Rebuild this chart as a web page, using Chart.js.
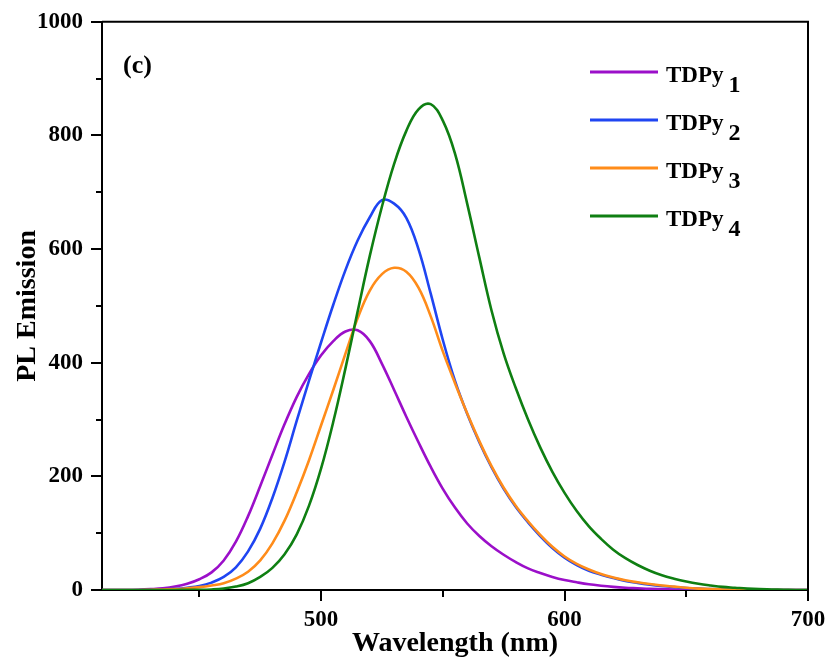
<!DOCTYPE html>
<html>
<head>
<meta charset="utf-8">
<script src="https://cdn.jsdelivr.net/npm/chart.js@4.4.0/dist/chart.umd.min.js"></script>
<style>
  html, body { margin: 0; padding: 0; background: #fff; }
  #wrap { width: 835px; height: 661px; }
</style>
</head>
<body>
<div id="wrap"><canvas id="plChart" width="835" height="661"></canvas></div>
<script>
// PL emission spectra, every 5 nm
var wavelengths = [410, 415, 420, 425, 430, 435, 440, 445, 450, 455,
                   460, 465, 470, 475, 480, 485, 490, 495, 500, 505,
                   510, 515, 520, 525, 530, 535, 540, 545, 550, 555,
                   560, 565, 570, 575, 580, 585, 590, 595, 600, 605,
                   610, 615, 620, 625, 630, 635, 640, 645, 650, 655,
                   660, 665, 670, 675, 680, 685, 690, 695, 700];

var tdpy1 = [0, 0, 0, 0.5, 1.5, 3, 6, 11, 19, 31,
             52, 85, 130, 183, 238, 292, 340, 380, 413, 438,
             455, 457, 438, 398, 352, 305, 260, 217, 178, 145,
             117, 95, 77, 62, 49, 38, 30, 23, 17.5, 13.5,
             10, 7.5, 5.5, 4, 3, 2, 1.5, 1, 0.5, 0.5,
             0, 0, 0, 0, 0, 0, 0, 0, 0];

var tdpy2 = [0, 0, 0, 0, 0.5, 1, 2, 4, 7, 13,
             23, 40, 68, 108, 162, 226, 298, 368, 436, 502,
             563, 615, 656, 686, 680, 655, 600, 522, 440, 368,
             310, 260, 216, 178, 146, 119, 95, 74, 57, 44,
             34, 27, 21, 16, 12.5, 9.5, 7, 5, 3.5, 2.5,
             1.5, 1, 0.5, 0, 0, 0, 0, 0, 0];

var tdpy3 = [0, 0, 0, 0, 0.5, 1, 1.5, 3, 5, 8,
             12, 20, 32, 52, 82, 122, 172, 228, 290, 352,
             416, 478, 527, 556, 567, 560, 532, 482, 420, 364,
             311, 262, 218, 180, 148, 121, 97, 76, 59, 46,
             36, 28, 22, 17, 13.5, 10.5, 8, 6, 4, 2.5,
             1.5, 1, 0.5, 0, 0, 0, 0, 0, 0];

var tdpy4 = [0, 0, 0, 0, 0, 0, 0, 0.5, 0.5, 1,
             2.5, 6, 12, 23, 39, 63, 98, 148, 214, 296,
             390, 490, 588, 675, 750, 808, 846, 855, 826, 768,
             680, 585, 492, 416, 355, 300, 251, 208, 171, 139,
             112, 90, 71, 56, 44, 34, 26, 20, 15, 11,
             8, 5.5, 4, 2.5, 1.5, 1, 0.5, 0, 0];

var seriesNames = ["TDPy1", "TDPy2", "TDPy3", "TDPy4"];
var seriesValues = [tdpy1, tdpy2, tdpy3, tdpy4];

var xTicks = [500, 600, 700];
var xMinorTicks = [450, 550, 650];
var yMinorTicks = [100, 300, 500, 700, 900];

var lineColors = ["#9B0FC9", "#1F45F2", "#FF8C1A", "#0F7F12"];
var serif = "'Liberation Serif', 'Times New Roman', serif";

function toPoints(values) {
  return wavelengths.map(function(w, i) { return { x: w, y: values[i] }; });
}

var datasets = seriesNames.map(function(name, i) {
  return {
    label: name,
    data: toPoints(seriesValues[i]),
    borderColor: lineColors[i],
    backgroundColor: lineColors[i],
    borderWidth: 2.6,
    pointRadius: 0,
    tension: 0.4,
    fill: false,
    order: seriesNames.length - i
  };
});

// white page, top/right frame, minor ticks, panel letter and legend
var framePlugin = {
  id: "frame",
  beforeDraw: function(chart) {
    var ctx = chart.ctx;
    ctx.save();
    ctx.fillStyle = "#fff";
    ctx.fillRect(0, 0, chart.width, chart.height);
    ctx.restore();
  },
  afterDraw: function(chart) {
    var ctx = chart.ctx;
    var a = chart.chartArea;
    var xs = chart.scales.x, ys = chart.scales.y;
    ctx.save();
    ctx.strokeStyle = "#000";
    ctx.lineWidth = 2;
    ctx.beginPath();
    ctx.moveTo(a.left, a.top);
    ctx.lineTo(a.right, a.top);
    ctx.lineTo(a.right, a.bottom);
    xMinorTicks.forEach(function(v) {
      var px = Math.round(xs.getPixelForValue(v));
      ctx.moveTo(px, a.bottom);
      ctx.lineTo(px, a.bottom + 7);
    });
    yMinorTicks.forEach(function(v) {
      var py = Math.round(ys.getPixelForValue(v));
      ctx.moveTo(a.left, py);
      ctx.lineTo(a.left - 6, py);
    });
    ctx.stroke();

    ctx.fillStyle = "#000";
    ctx.font = "bold 26px " + serif;
    ctx.textBaseline = "alphabetic";
    ctx.textAlign = "left";
    ctx.fillText("(c)", 123, 73);

    // legend with subscript digits
    chart.data.datasets.forEach(function(ds, i) {
      var y = 72 + i * 48;
      ctx.strokeStyle = ds.borderColor;
      ctx.lineWidth = 3;
      ctx.beginPath();
      ctx.moveTo(590, y);
      ctx.lineTo(658, y);
      ctx.stroke();
      var base = ds.label.slice(0, -1);
      var sub = ds.label.slice(-1);
      ctx.fillStyle = "#000";
      ctx.font = "bold 23px " + serif;
      ctx.fillText(base, 666, y + 10);
      var w = ctx.measureText(base).width;
      ctx.font = "bold 24px " + serif;
      ctx.fillText(sub, 666 + w + 5, y + 20);
    });
    ctx.restore();
  }
};

var chart = new Chart(document.getElementById("plChart").getContext("2d"), {
  type: "line",
  data: { datasets: datasets },
  options: {
    responsive: false,
    animation: false,
    devicePixelRatio: 1,
    layout: { padding: { top: 20, right: 27, left: 0, bottom: 0 } },
    plugins: {
      legend: { display: false },
      tooltip: { enabled: false }
    },
    scales: {
      x: {
        type: "linear",
        min: 410,
        max: 700,
        afterBuildTicks: function(scale) {
          scale.ticks = xTicks.map(function(v) { return { value: v }; });
        },
        afterFit: function(scale) { scale.height = 71; },
        border: { display: true, color: "#000", width: 2 },
        grid: { drawOnChartArea: false, drawTicks: true, tickLength: 11, color: "#000", lineWidth: 2 },
        ticks: {
          color: "#000",
          padding: 5,
          maxRotation: 0,
          callback: function(v) { return String(v); },
          font: { family: serif, size: 23, weight: "bold" }
        },
        title: {
          display: true,
          text: "Wavelength (nm)",
          color: "#000",
          padding: { top: 0, bottom: 0 },
          font: { family: serif, size: 28, weight: "bold" }
        }
      },
      y: {
        min: 0,
        max: 1000,
        ticks: {
          stepSize: 200,
          color: "#000",
          padding: 8,
          callback: function(v) { return String(v); },
          font: { family: serif, size: 23, weight: "bold" }
        },
        afterFit: function(scale) { scale.width = 102; },
        border: { display: true, color: "#000", width: 2 },
        grid: { drawOnChartArea: false, drawTicks: true, tickLength: 11, color: "#000", lineWidth: 2 },
        title: {
          display: true,
          text: "PL Emission",
          color: "#000",
          padding: { top: 11, bottom: 0 },
          font: { family: serif, size: 28, weight: "bold" }
        }
      }
    }
  },
  plugins: [framePlugin]
});
</script>
</body>
</html>
